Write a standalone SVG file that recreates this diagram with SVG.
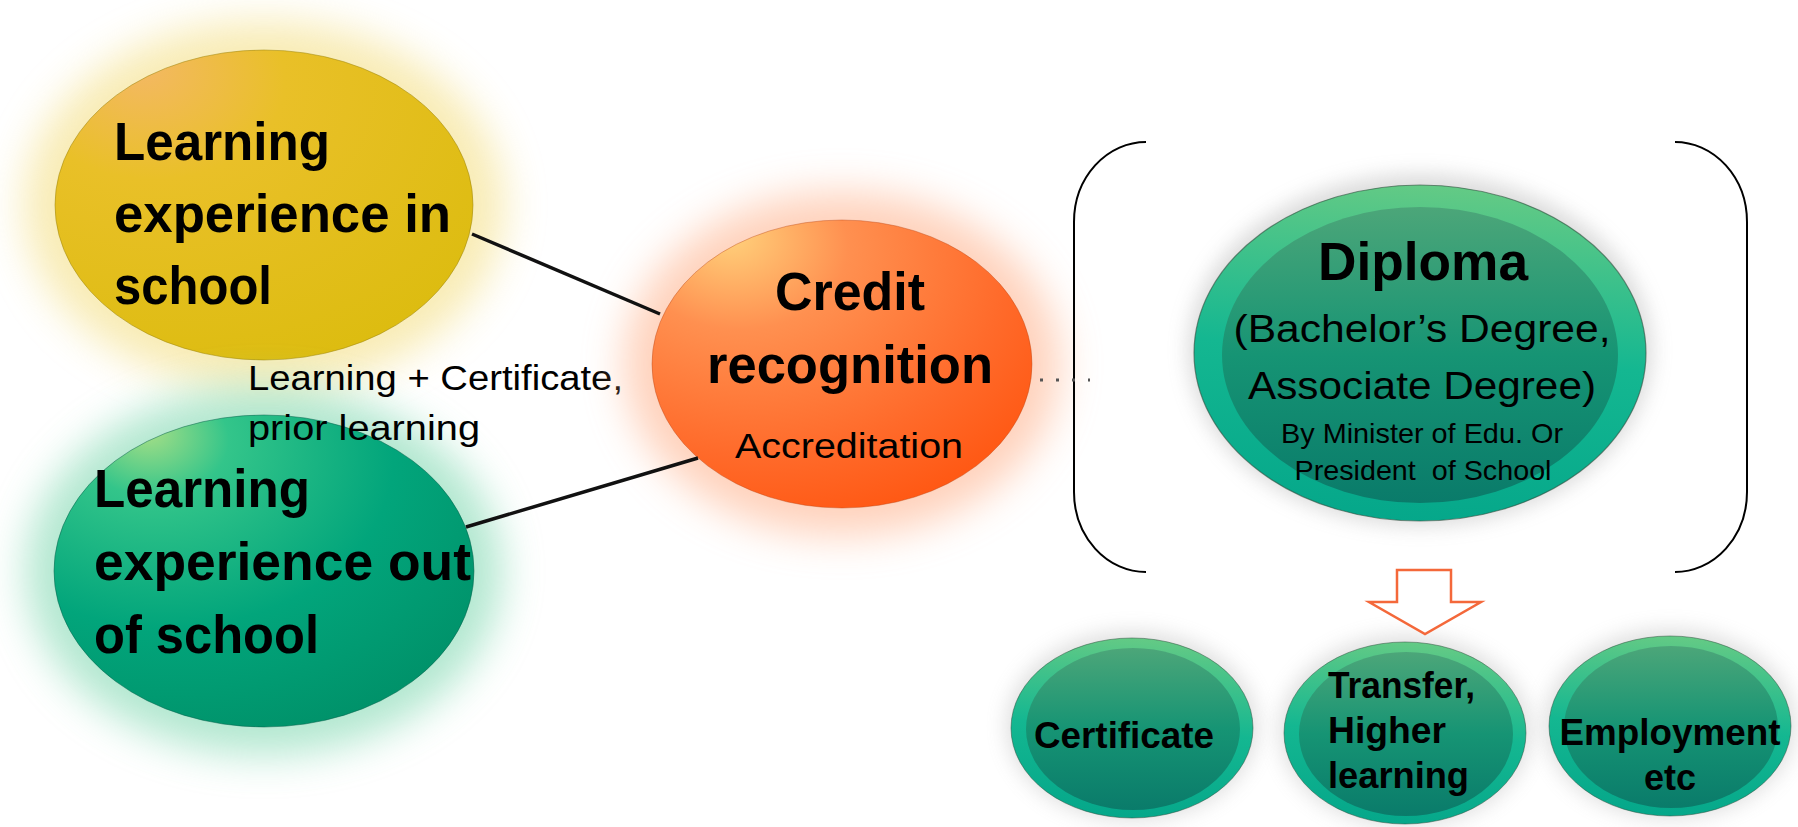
<svg xmlns="http://www.w3.org/2000/svg" width="1798" height="827" viewBox="0 0 1798 827">
<style>
.b{font-family:"Liberation Sans",Arial,sans-serif;font-weight:bold;fill:#000}
.r{font-family:"Liberation Sans",Arial,sans-serif;font-weight:normal;fill:#000}
.big{font-size:53px}
.mid{font-size:38px}
.sm{font-size:28px}
.btn{font-size:36px}
.lbl{font-size:35px}
.link{stroke:#111;stroke-width:3.5;fill:none}
.brk{stroke:#000;stroke-width:2;fill:none}
</style>
<defs>
<filter id="glow" x="-40%" y="-40%" width="180%" height="180%"><feGaussianBlur stdDeviation="20"/></filter>
<filter id="shade" x="-30%" y="-30%" width="160%" height="160%"><feGaussianBlur stdDeviation="10"/></filter>
<radialGradient id="gYel" cx="0.3" cy="0.2" r="0.9" fx="0.2" fy="0.05">
<stop offset="0" stop-color="#f4b865"/><stop offset="0.35" stop-color="#e9c028"/><stop offset="1" stop-color="#dcbc0f"/></radialGradient>
<radialGradient id="gGrn" cx="0.3" cy="0.2" r="0.9" fx="0.22" fy="0.05">
<stop offset="0" stop-color="#a8df86"/><stop offset="0.2" stop-color="#33c58a"/><stop offset="0.6" stop-color="#02a57b"/><stop offset="1" stop-color="#009068"/></radialGradient>
<radialGradient id="gOra" cx="0.3" cy="0.2" r="0.95" fx="0.2" fy="0.05">
<stop offset="0" stop-color="#ffd27c"/><stop offset="0.3" stop-color="#ff9050"/><stop offset="0.7" stop-color="#ff6a2a"/><stop offset="1" stop-color="#ff520c"/></radialGradient>
<linearGradient id="gRing" x1="0.5" y1="0" x2="0.4" y2="1">
<stop offset="0" stop-color="#63ca85"/><stop offset="0.5" stop-color="#14b791"/><stop offset="1" stop-color="#05a78a"/></linearGradient>
<linearGradient id="gCore" x1="0.5" y1="0" x2="0.5" y2="1">
<stop offset="0" stop-color="#4ca679"/><stop offset="0.5" stop-color="#169474"/><stop offset="1" stop-color="#0a7b6a"/></linearGradient>
</defs>
<rect width="1798" height="827" fill="#fff"/>

<g id="node-school">
<ellipse cx="264" cy="205" rx="240" ry="184" fill="#f3dc78" opacity="0.55" filter="url(#glow)"/>
<ellipse cx="264" cy="205" rx="209" ry="155" fill="url(#gYel)" stroke="#9a8208" stroke-width="1" stroke-opacity="0.5"/>
<text class="b big" x="114" y="160" textLength="216" lengthAdjust="spacingAndGlyphs">Learning</text>
<text class="b big" x="114" y="232" textLength="337" lengthAdjust="spacingAndGlyphs">experience in</text>
<text class="b big" x="114" y="304" textLength="158" lengthAdjust="spacingAndGlyphs">school</text>
</g>

<g id="node-outschool">
<ellipse cx="264" cy="571" rx="238" ry="184" fill="#7fd8b0" opacity="0.6" filter="url(#glow)"/>
<ellipse cx="264" cy="571" rx="210" ry="156" fill="url(#gGrn)" stroke="#05604a" stroke-width="1" stroke-opacity="0.5"/>
<text class="b big" x="94" y="507" textLength="216" lengthAdjust="spacingAndGlyphs">Learning</text>
<text class="b big" x="94" y="580" textLength="377" lengthAdjust="spacingAndGlyphs">experience out</text>
<text class="b big" x="94" y="653" textLength="225" lengthAdjust="spacingAndGlyphs">of school</text>
</g>

<g id="label-prior">
<text class="r lbl" x="248" y="390" textLength="375" lengthAdjust="spacingAndGlyphs">Learning + Certificate,</text>
<text class="r lbl" x="248" y="440" textLength="232" lengthAdjust="spacingAndGlyphs">prior learning</text>
</g>

<g id="node-credit">
<ellipse cx="842" cy="364" rx="218" ry="172" fill="#ffb48f" opacity="0.6" filter="url(#glow)"/>
<ellipse cx="842" cy="364" rx="190" ry="144" fill="url(#gOra)" stroke="#b84010" stroke-width="1" stroke-opacity="0.4"/>
<text class="b big" x="850" y="310" text-anchor="middle" textLength="150" lengthAdjust="spacingAndGlyphs">Credit</text>
<text class="b big" x="850" y="383" text-anchor="middle" textLength="286" lengthAdjust="spacingAndGlyphs">recognition</text>
<text class="r lbl" x="849" y="458" text-anchor="middle" textLength="228" lengthAdjust="spacingAndGlyphs">Accreditation</text>
</g>

<g id="bracket">
<path class="brk" d="M1146,142 A72,80 0 0 0 1074,222 L1074,492 A72,80 0 0 0 1146,572"/>
<path class="brk" d="M1675,142 A72,80 0 0 1 1747,222 L1747,492 A72,80 0 0 1 1675,572"/>
</g>

<g id="node-diploma">
<ellipse cx="1420" cy="350" rx="232" ry="176" fill="#9a9a9a" opacity="0.35" filter="url(#shade)"/>
<ellipse cx="1420" cy="353" rx="226" ry="168" fill="url(#gRing)" stroke="#2e4d3c" stroke-width="1.2" stroke-opacity="0.6"/>
<ellipse cx="1420" cy="355" rx="198" ry="148" fill="url(#gCore)"/>
<text class="b big" x="1423" y="280" text-anchor="middle" textLength="210" lengthAdjust="spacingAndGlyphs">Diploma</text>
<text class="r mid" x="1422" y="342" text-anchor="middle" textLength="377" lengthAdjust="spacingAndGlyphs">(Bachelor’s Degree,</text>
<text class="r mid" x="1422" y="399" text-anchor="middle" textLength="348" lengthAdjust="spacingAndGlyphs">Associate Degree)</text>
<text class="r sm" x="1422" y="443" text-anchor="middle" textLength="282" lengthAdjust="spacingAndGlyphs">By Minister of Edu. Or</text>
<text class="r sm" x="1423" y="480" text-anchor="middle" textLength="257" lengthAdjust="spacingAndGlyphs" xml:space="preserve">President  of School</text>
</g>

<g id="node-certificate">
<ellipse cx="1132" cy="726" rx="126" ry="95" fill="#9a9a9a" opacity="0.3" filter="url(#shade)"/>
<ellipse cx="1132" cy="728" rx="121" ry="90" fill="url(#gRing)" stroke="#2e4d3c" stroke-width="1" stroke-opacity="0.5"/>
<ellipse cx="1133" cy="729" rx="107" ry="81" fill="url(#gCore)"/>
<text class="b btn" x="1124" y="748" text-anchor="middle" textLength="180" lengthAdjust="spacingAndGlyphs">Certificate</text>
</g>

<g id="node-transfer">
<ellipse cx="1405" cy="731" rx="126" ry="96" fill="#9a9a9a" opacity="0.3" filter="url(#shade)"/>
<ellipse cx="1405" cy="733" rx="121" ry="91" fill="url(#gRing)" stroke="#2e4d3c" stroke-width="1" stroke-opacity="0.5"/>
<ellipse cx="1406" cy="734" rx="107" ry="82" fill="url(#gCore)"/>
<text class="b btn" x="1328" y="698" textLength="147" lengthAdjust="spacingAndGlyphs">Transfer,</text>
<text class="b btn" x="1328" y="743" textLength="118" lengthAdjust="spacingAndGlyphs">Higher</text>
<text class="b btn" x="1328" y="788" textLength="141" lengthAdjust="spacingAndGlyphs">learning</text>
</g>

<g id="node-employment">
<ellipse cx="1670" cy="724" rx="126" ry="95" fill="#9a9a9a" opacity="0.3" filter="url(#shade)"/>
<ellipse cx="1670" cy="726" rx="121" ry="90" fill="url(#gRing)" stroke="#2e4d3c" stroke-width="1" stroke-opacity="0.5"/>
<ellipse cx="1671" cy="727" rx="107" ry="81" fill="url(#gCore)"/>
<text class="b btn" x="1670" y="745" text-anchor="middle" textLength="221" lengthAdjust="spacingAndGlyphs">Employment</text>
<text class="b btn" x="1670" y="790" text-anchor="middle">etc</text>
</g>

<g id="connectors">
<line class="link" x1="472" y1="234" x2="660" y2="314"/>
<line class="link" x1="466" y1="527" x2="698" y2="458"/>
<line x1="1040" y1="380" x2="1090" y2="380" stroke="#555" stroke-width="3" stroke-dasharray="3 13"/>
<path d="M1397,570 H1451 V602 H1481 L1425,634 L1369,602 H1397 Z" fill="#fff" stroke="#f4683a" stroke-width="2.5" stroke-linejoin="miter"/>
</g>
</svg>
